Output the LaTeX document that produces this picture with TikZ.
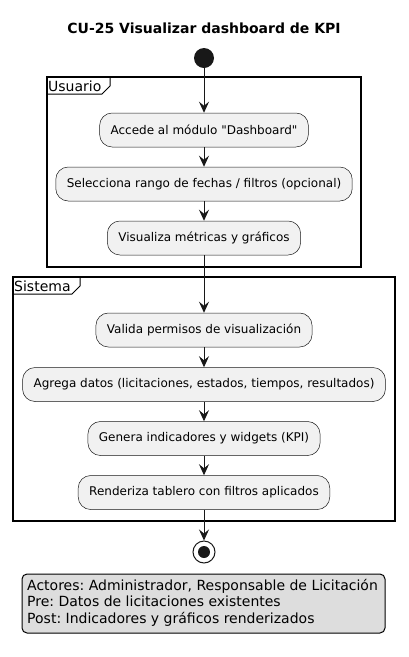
\documentclass[tikz,border=0pt]{standalone}
\usepackage{fontspec}
\setmainfont{DejaVu Sans}[Ligatures=TeXOff]
\usetikzlibrary{arrows.meta}
\definecolor{actfill}{HTML}{F1F1F1}
\definecolor{actline}{HTML}{181818}
\definecolor{notefill}{HTML}{DDDDDD}
\frenchspacing
\tikzset{
  act/.style={draw=actline, line width=0.5pt, fill=actfill, rounded corners=12.5pt,
    minimum height=34pt, inner xsep=11pt, font=\fontsize{12}{14}\selectfont, anchor=center},
  flow/.style={draw=actline, line width=1pt, -{Stealth[length=11pt,width=10pt,inset=4pt]}},
  frm/.style={draw=black, line width=1.5pt},
  frmlabel/.style={font=\fontsize{14}{16}\selectfont, anchor=west, inner sep=0pt},
}
\begin{document}
\begin{tikzpicture}[x=1pt,y=-1pt]
\useasboundingbox (0,0) rectangle (408,657);
% title
\node[font=\bfseries\fontsize{14}{16}\selectfont] (title) at (204,28) {CU-25 Visualizar dashboard de KPI};
% start
\node[circle, fill=actline, minimum size=20pt, inner sep=0pt] (start) at (204,58) {};
% frames
\draw[frm] (47,77) rectangle (361,267);
\draw[line width=1pt] (47,94) -- (102,94) -- (110,86) -- (110,77);
\node[frmlabel] (usuario) at (48,86) {Usuario};
\draw[frm] (13,277) rectangle (395,521);
\draw[line width=1pt] (13,294) -- (72,294) -- (80,286) -- (80,277);
\node[frmlabel] (sistema) at (14,286) {Sistema};
% actions
\node[act] (a1) at (204,130) {Accede al módulo "Dashboard"};
\node[act] (a2) at (204,184) {Selecciona rango de fechas / filtros (opcional)};
\node[act] (a3) at (204,238) {Visualiza métricas y gráficos};
\node[act] (a4) at (204,330) {Valida permisos de visualización};
\node[act] (a5) at (204,384.5) {Agrega datos (licitaciones, estados, tiempos, resultados)};
\node[act] (a6) at (204,438.5) {Genera indicadores y widgets (KPI)};
\node[act] (a7) at (204,492.5) {Renderiza tablero con filtros aplicados};
% stop
\node[circle, draw=actline, line width=1pt, fill=white, minimum size=22pt, inner sep=0pt] (stop) at (204,552) {};
\node[circle, fill=actline, minimum size=12pt, inner sep=0pt] (stopin) at (204,552) {};
% arrows
\draw[flow] (start) -- (a1);
\draw[flow] (a1) -- (a2);
\draw[flow] (a2) -- (a3);
\draw[flow] (a3) -- (a4);
\draw[flow] (a4) -- (a5);
\draw[flow] (a5) -- (a6);
\draw[flow] (a6) -- (a7);
\draw[flow] (a7) -- (stop);
% note
\draw[draw=black, line width=1pt, fill=notefill, rounded corners=5pt] (22,574) rectangle (385,633);
\node[anchor=north west, inner sep=0pt, align=left, font=\fontsize{14}{16.5}\selectfont] (note) at (27,579)
  {Actores: Administrador, Responsable de Licitación\\Pre: Datos de licitaciones existentes\\Post: Indicadores y gráficos renderizados};
\end{tikzpicture}
\end{document}
